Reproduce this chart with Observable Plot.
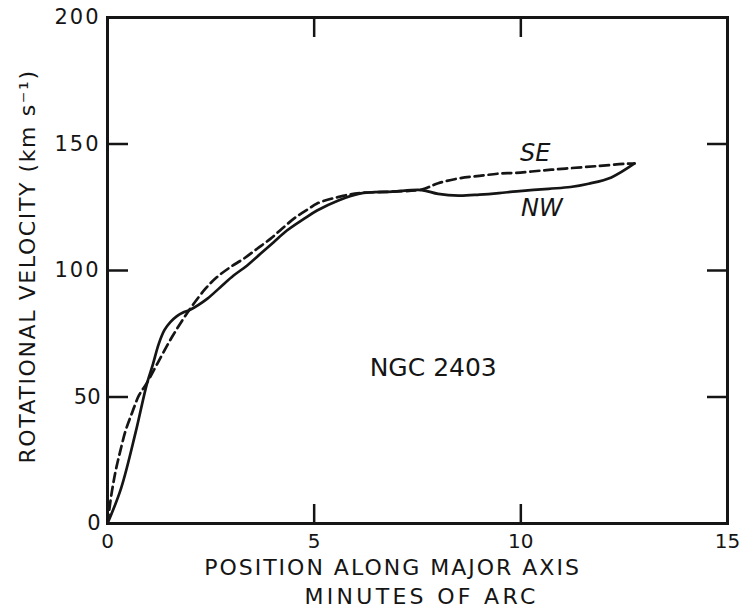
<!DOCTYPE html>
<html>
<head>
<meta charset="utf-8">
<script src="https://cdn.jsdelivr.net/npm/d3@7"></script>
<script src="https://cdn.jsdelivr.net/npm/@observablehq/plot@0.6"></script>
<style>
  html, body { margin: 0; padding: 0; background: #fff; }
</style>
</head>
<body>
<div id="chart"></div>
<script>
// Rotation curve of NGC 2403: position along the major axis (arcmin) vs rotational velocity (km/s)
const nwX = [0, 0.33, 0.68, 0.95, 1.1, 1.24, 1.38, 1.52, 1.68, 1.84, 2.0, 2.41, 2.73, 3.05, 3.38, 3.7, 4.02, 4.34, 4.75, 5.07, 5.6, 6.1, 6.9, 7.6, 8.0, 8.5, 9.0, 9.47, 9.9, 10.67, 11.2, 11.64, 12.19, 12.75];
const nwV = [0, 14, 36, 55, 63, 71, 76.5, 79.6, 82, 83.5, 84.5, 88.8, 93.4, 98, 102, 106.6, 111.2, 115.8, 120.4, 123.7, 127.8, 130.4, 131.2, 131.8, 130.3, 129.6, 130, 130.6, 131.3, 132.3, 133, 134.3, 136.8, 142.3];

const seX = [0, 0.1, 0.2, 0.3, 0.44, 0.6, 0.76, 0.95, 1.2, 1.56, 1.97, 2.37, 2.65, 2.97, 3.29, 3.62, 3.94, 4.22, 4.55, 4.87, 5.07, 5.7, 6.1, 6.9, 7.6, 8.0, 8.5, 9.0, 9.47, 9.88, 10.5, 11.08, 11.8, 12.53, 12.75];
const seV = [0, 12, 21, 28, 36.8, 44, 50.6, 55.5, 63, 73.7, 84.2, 92.8, 97.4, 101.3, 104.6, 108.6, 112.5, 116.5, 121, 124.4, 126.5, 129.5, 130.6, 131.2, 132, 134.5, 136.4, 137.4, 138.3, 138.6, 139.5, 140.3, 141.2, 142.2, 142.3];

const xTicks = [0, 5, 10, 15];
const yTicks = [0, 50, 100, 150, 200];
const xInnerTicks = [5, 10];
const yInnerTicks = [50, 100, 150];

const xTitle = ["POSITION ALONG MAJOR AXIS", "MINUTES OF ARC"];
const yTitle = "ROTATIONAL VELOCITY (km s\u207B\u00B9)";
const galaxy = "NGC 2403";
const sides = ["SE", "NW"];

const nw = nwX.map((x, i) => ({x, v: nwV[i]}));
const se = seX.map((x, i) => ({x, v: seV[i]}));

const ink = "#151515";
const font = "DejaVu Sans";

const chart = Plot.plot({
  width: 740,
  height: 610,
  marginLeft: 107,
  marginRight: 13,
  marginTop: 17,
  marginBottom: 87,
  x: {domain: [0, 15]},
  y: {domain: [0, 200]},
  style: {fontFamily: font, color: ink, background: "#fff", overflow: "visible"},
  marks: [
    // inward ticks on all four sides
    Plot.axisX(xInnerTicks, {anchor: "top", frameAnchor: "bottom", tickSize: 20, strokeWidth: 2.5, fill: "none", label: null}),
    Plot.axisX(xInnerTicks, {anchor: "bottom", frameAnchor: "top", tickSize: 20, strokeWidth: 2.5, fill: "none", label: null}),
    Plot.axisY(yInnerTicks, {anchor: "right", frameAnchor: "left", tickSize: 20, strokeWidth: 2.5, fill: "none", label: null}),
    Plot.axisY(yInnerTicks, {anchor: "left", frameAnchor: "right", tickSize: 20, strokeWidth: 2.5, fill: "none", label: null}),
    // tick labels
    Plot.axisX(xTicks, {anchor: "bottom", tickSize: 0, tickPadding: 10, fontSize: 20, label: null}),
    Plot.axisY(yTicks, {anchor: "left", tickSize: 0, tickPadding: 7, fontSize: 21, label: null}),
    Plot.frame({stroke: ink, strokeWidth: 3}),
    // the two sides of the major axis
    Plot.line(se, {x: "x", y: "v", curve: "catmull-rom", stroke: ink, strokeWidth: 2.7, strokeDasharray: "9,5"}),
    Plot.line(nw, {x: "x", y: "v", curve: "catmull-rom", stroke: ink, strokeWidth: 2.7}),
    Plot.text([sides[0]], {x: 10.35, y: 146.2, text: d => d, fontSize: 24, fontStyle: "italic", fill: ink}),
    Plot.text([sides[1]], {x: 10.51, y: 124.5, text: d => d, fontSize: 24, fontStyle: "italic", fill: ink}),
    Plot.text([galaxy], {x: 7.88, y: 61.3, text: d => d, fontSize: 25, fill: ink}),
    // axis titles
    Plot.text([xTitle[0]], {frameAnchor: "bottom", textAnchor: "middle", lineAnchor: "middle", dx: -25, dy: 44.5, text: d => d, fontSize: 22, fill: ink}),
    Plot.text([xTitle[1]], {frameAnchor: "bottom", textAnchor: "middle", lineAnchor: "middle", dx: 4, dy: 73, text: d => d, fontSize: 22, fill: ink}),
    Plot.text([yTitle], {frameAnchor: "left", textAnchor: "middle", lineAnchor: "middle", rotate: -90, dx: -80, dy: -4, text: d => d, fontSize: 22, fill: ink})
  ]
});

// letter spacing for the hand-lettered look
const spacing = new Map([
  [xTitle[0], "2px"],
  [xTitle[1], "3.3px"],
  [yTitle, "1.6px"]
]);
d3.select(chart).selectAll("text").each(function () {
  const t = this.textContent;
  if (spacing.has(t)) this.setAttribute("letter-spacing", spacing.get(t));
  else if (/^\d+$/.test(t) && t.length === 3) this.setAttribute("letter-spacing", "2px");
});

document.getElementById("chart").append(chart);
</script>
</body>
</html>
